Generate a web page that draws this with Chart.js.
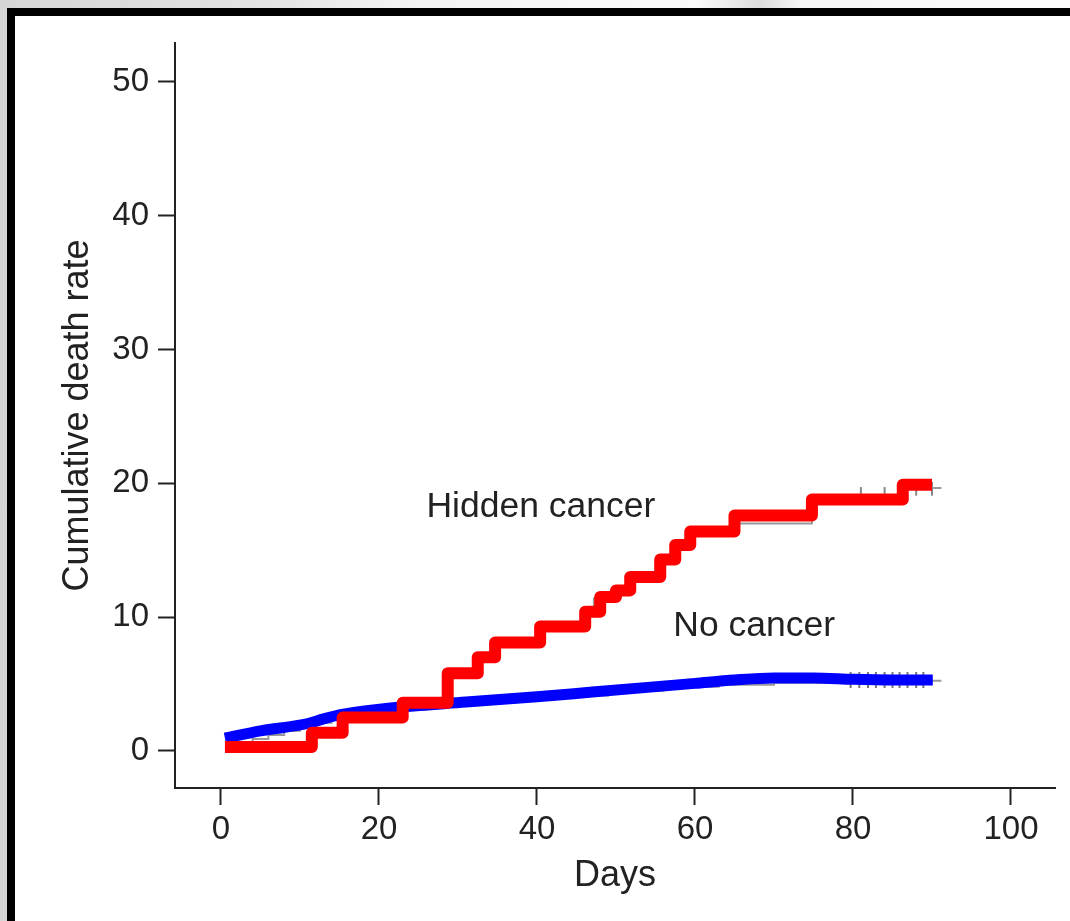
<!DOCTYPE html>
<html>
<head>
<meta charset="utf-8">
<script src="https://cdn.jsdelivr.net/npm/chart.js@4.4.1/dist/chart.umd.min.js"></script>
<style>
  html, body {
    margin: 0;
    width: 1070px;
    height: 921px;
    overflow: hidden;
    background: linear-gradient(to right, #d6d6d6 0, #e2e2e2 260px, #f4f4f4 420px, #fafafa 700px, #dcdcdc 760px, #f6f6f6 800px, #fbfbfb 1070px);
  }
  #frame {
    position: absolute;
    left: 7px;
    top: 8px;
    width: 1100px;
    height: 950px;
    background: #fff;
    border-top: 8px solid #000;
    border-left: 8px solid #000;
  }
  #wrap {
    position: absolute;
    left: 0;
    top: 0;
    width: 1070px;
    height: 921px;
  }
</style>
</head>
<body>
<div id="frame"></div>
<div id="wrap"><canvas id="chart"></canvas></div>
<script>
const hiddenDays = [0.5, 11.5, 15.4, 23.0, 28.7, 32.5, 34.7, 40.4, 46.1, 48.0, 50.0, 51.8, 55.6, 57.5, 59.4, 65.0, 74.8, 86.3, 90.0];
const hiddenRate = [0.3, 1.35, 2.5, 3.6, 5.8, 7.0, 8.1, 9.3, 10.4, 11.5, 12.0, 13.0, 14.3, 15.4, 16.4, 17.6, 18.8, 19.9, 19.9];

const noCancerDays = [0.5, 5, 11, 13, 15.5, 19, 23, 31, 40, 47, 54, 60, 65, 70, 75, 80, 85, 90.1];
const noCancerRate = [0.95, 1.5, 2.05, 2.4, 2.75, 3.05, 3.3, 3.65, 4.05, 4.4, 4.75, 5.05, 5.3, 5.45, 5.45, 5.35, 5.3, 5.3];

// thin grey Kaplan-Meier steps under the thick curves
const kmHiddenDays = [0.5, 11.5, 15.4, 23.0, 28.2, 32.5, 34.7, 40.4, 45.6, 47.2, 50.0, 51.8, 55.6, 57.5, 59.4, 65.0, 74.8, 86.3, 91.2];
const kmHiddenRate = [0.2, 1.3, 2.4, 3.5, 5.7, 6.9, 8.0, 9.2, 10.3, 11.4, 11.9, 12.9, 14.2, 15.3, 16.3, 17.0, 18.7, 19.65, 19.65];
const kmNoCancerDays = [0.5, 2, 4, 6, 8, 10, 12, 14, 17, 21, 26, 29, 35, 42, 49, 56, 63, 70, 78, 91.2];
const kmNoCancerRate = [0.1, 0.5, 0.9, 1.2, 1.5, 1.8, 2.1, 2.5, 2.8, 3.1, 3.3, 3.5, 3.85, 4.15, 4.5, 4.8, 4.95, 5.1, 5.25, 5.25];

const hiddenCensorDays = [81, 84, 88, 90];
const hiddenCensorRate = [19.2, 19.2, 19.6, 19.6];
const noCancerCensorDays = [79.7, 80.8, 81.9, 82.9, 84.0, 85.0, 85.9, 86.9, 88.0, 88.9];
const noCancerCensorRate = [5.3, 5.3, 5.3, 5.3, 5.3, 5.3, 5.3, 5.3, 5.3, 5.3];

const xTicks = [0, 20, 40, 60, 80, 100];
const yTicks = [0, 10, 20, 30, 40, 50];

const curveLabels = ['Hidden cancer', 'No cancer'];
const curveLabelDays = [40.5, 67.5];
const curveLabelRates = [18.2, 9.35];

const font = '"Liberation Sans", Arial, Helvetica, sans-serif';
const ink = '#222';

function points(xs, ys) {
  return xs.map((x, i) => ({ x: x, y: ys[i] }));
}

const curveText = {
  id: 'curveText',
  afterDatasetsDraw(chart) {
    const ctx = chart.ctx;
    const x = chart.scales.x;
    const y = chart.scales.y;
    ctx.save();
    ctx.fillStyle = ink;
    ctx.font = '35.5px ' + font;
    ctx.textAlign = 'center';
    ctx.textBaseline = 'middle';
    curveLabels.forEach((text, i) => {
      ctx.fillText(text, x.getPixelForValue(curveLabelDays[i]), y.getPixelForValue(curveLabelRates[i]));
    });
    ctx.restore();
  },
};

new Chart(document.getElementById('chart'), {
  type: 'line',
  data: {
    datasets: [
      {
        label: 'Hidden cancer',
        data: points(hiddenDays, hiddenRate),
        stepped: 'before',
        borderColor: '#ff0000',
        borderWidth: 12,
        borderJoinStyle: 'round',
        pointRadius: 0,
        fill: false,
        order: 1,
      },
      {
        label: 'No cancer',
        data: points(noCancerDays, noCancerRate),
        cubicInterpolationMode: 'monotone',
        borderColor: '#0000ff',
        borderWidth: 11,
        pointRadius: 0,
        fill: false,
        order: 2,
      },
      {
        label: 'KM hidden',
        data: points(kmHiddenDays, kmHiddenRate),
        stepped: 'before',
        borderColor: '#999',
        borderWidth: 2,
        pointRadius: 0,
        fill: false,
        order: 3,
      },
      {
        label: 'KM no cancer',
        data: points(kmNoCancerDays, kmNoCancerRate),
        stepped: 'before',
        borderColor: '#999',
        borderWidth: 2,
        pointRadius: 0,
        fill: false,
        order: 4,
      },
      {
        label: 'Censored hidden',
        data: points(hiddenCensorDays, hiddenCensorRate),
        showLine: false,
        pointStyle: 'line',
        rotation: 90,
        pointRadius: 7,
        pointBorderColor: '#888',
        pointBorderWidth: 2,
        order: 5,
      },
      {
        label: 'Censored no cancer',
        data: points(noCancerCensorDays, noCancerCensorRate),
        showLine: false,
        pointStyle: 'line',
        rotation: 90,
        pointRadius: 8,
        pointBorderColor: '#777',
        pointBorderWidth: 2,
        order: 5,
      },
    ],
  },
  options: {
    responsive: true,
    maintainAspectRatio: false,
    animation: false,
    layout: {
      padding: { top: 43, right: 15, left: 0, bottom: 0 },
    },
    plugins: {
      legend: { display: false },
      tooltip: { enabled: false },
    },
    scales: {
      x: {
        type: 'linear',
        min: -5.82,
        max: 105.57,
        afterBuildTicks: (scale) => {
          scale.ticks = xTicks.map((v) => ({ value: v }));
        },
        afterFit: (scale) => {
          scale.height = 133;
        },
        border: { display: true, color: ink, width: 2 },
        grid: {
          drawOnChartArea: false,
          drawTicks: true,
          tickLength: 17,
          tickWidth: 2,
          tickColor: ink,
        },
        ticks: {
          color: ink,
          padding: 5,
          maxRotation: 0,
          font: { family: font, size: 33 },
        },
        title: {
          display: true,
          text: 'Days',
          color: ink,
          padding: { top: 0, bottom: 23 },
          font: { family: font, size: 36 },
        },
      },
      y: {
        type: 'linear',
        min: -2.77,
        max: 52.91,
        afterBuildTicks: (scale) => {
          scale.ticks = yTicks.map((v) => ({ value: v }));
        },
        afterFit: (scale) => {
          scale.width = 175;
        },
        border: { display: true, color: ink, width: 2 },
        grid: {
          drawOnChartArea: false,
          drawTicks: true,
          tickLength: 17,
          tickWidth: 2,
          tickColor: ink,
        },
        ticks: {
          color: ink,
          padding: 9,
          font: { family: font, size: 33 },
        },
        title: {
          display: true,
          text: 'Cumulative death rate',
          color: ink,
          padding: { top: 56, bottom: 0 },
          font: { family: font, size: 36 },
        },
      },
    },
  },
  plugins: [curveText],
});
</script>
</body>
</html>
